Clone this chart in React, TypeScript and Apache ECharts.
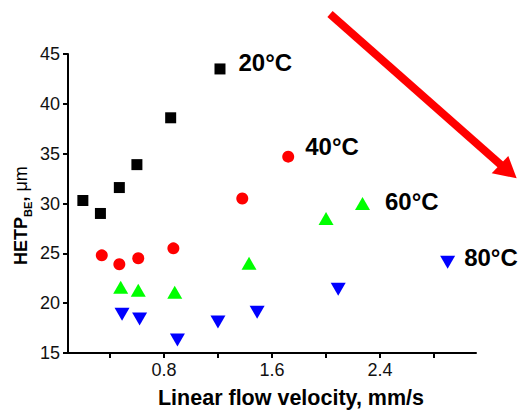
import React, { useEffect, useRef } from "react";
import * as echarts from "echarts";

const seriesNames = ["20°C", "40°C", "60°C", "80°C"];
const x20 = [0.2, 0.33, 0.47, 0.6, 0.85, 1.215];
const y20 = [30.3, 29.0, 31.6, 33.9, 38.6, 43.5];
const x40 = [0.34, 0.47, 0.61, 0.87, 1.38, 1.72];
const y40 = [24.8, 23.9, 24.5, 25.5, 30.5, 34.7];
const x60 = [0.48, 0.61, 0.88, 1.43, 2.0, 2.27];
const y60 = [21.6, 21.3, 21.1, 24.0, 28.5, 30.0];
const x80 = [0.49, 0.62, 0.9, 1.2, 1.49, 2.09, 2.9];
const y80 = [18.9, 18.4, 16.3, 18.1, 19.1, 21.4, 24.1];
const xTickValues = [0.4, 0.8, 1.2, 1.6, 2.0, 2.4, 2.8];
const xLabelValues = [0.8, 1.6, 2.4];
const xTitle = "Linear flow velocity, mm/s";
const yTitleMain = "HETP";
const yTitleSub = "BE";
const yTitleUnit = "μm";

const FONT = '"Liberation Sans", Arial, Helvetica, sans-serif';

const styles = [
  { color: "#000000", symbol: "rect", size: 11, rotate: 0, dist: 13, offset: [0, -6] },
  { color: "#ff0000", symbol: "circle", size: 12, rotate: 0, dist: 11, offset: [0, -10] },
  { color: "#00ff00", symbol: "triangle", size: [15, 13], rotate: 0, dist: 15, offset: [0, -2] },
  { color: "#0000ff", symbol: "triangle", size: [15, 13], rotate: 180, dist: 9, offset: [0, -5] },
];

function buildData(xs: number[], ys: number[], name: string, st: any) {
  return xs.map((x, i) => {
    const d: any = { value: [x, ys[i]] };
    if (i === xs.length - 1) {
      d.label = {
        show: true,
        formatter: name,
        position: "right",
        distance: st.dist,
        offset: st.offset,
        fontSize: 24,
        fontWeight: "bold",
        fontFamily: FONT,
        color: "#000",
      };
    }
    return d;
  });
}

export default function App() {
  const ref = useRef<HTMLDivElement>(null);
  useEffect(() => {
    if (!ref.current) return;
    const chart = echarts.init(ref.current, null, { renderer: "svg" });
    const xs = [x20, x40, x60, x80];
    const ys = [y20, y40, y60, y80];
    const series = seriesNames.map((n, k) => {
      const st = styles[k];
      return {
        name: n,
        type: "scatter",
        symbol: st.symbol,
        symbolSize: st.size,
        symbolRotate: st.rotate,
        itemStyle: { color: st.color, opacity: 1 },
        data: buildData(xs[k], ys[k], n, st),
        z: 3,
      };
    });
    chart.setOption({
      animation: false,
      backgroundColor: "#ffffff",
      textStyle: { fontFamily: FONT },
      grid: { left: 68, right: 43, top: 54, bottom: 57, containLabel: false },
      xAxis: {
        type: "value",
        min: 0.09,
        max: 3.11,
        splitLine: { show: false },
        axisLine: { show: true, onZero: false, lineStyle: { color: "#000", width: 2 } },
        axisTick: { show: true, inside: false, length: 5, customValues: xTickValues, lineStyle: { color: "#000", width: 2 } },
        axisLabel: {
          customValues: xLabelValues,
          formatter: (v: number) => v.toFixed(1),
          fontSize: 18,
          color: "#111",
          margin: 8,
          fontFamily: FONT,
        },
      },
      yAxis: {
        type: "value",
        min: 15,
        max: 45,
        interval: 5,
        splitLine: { show: false },
        axisLine: { show: true, onZero: false, lineStyle: { color: "#000", width: 2 } },
        axisTick: { show: true, inside: false, length: 5, lineStyle: { color: "#000", width: 2 } },
        axisLabel: { fontSize: 18, color: "#111", margin: 8, fontFamily: FONT },
      },
      graphic: [
        {
          type: "text",
          x: 291,
          y: 397.5,
          style: {
            text: xTitle,
            fontSize: 21.5,
            fontWeight: "bold",
            fontFamily: FONT,
            fill: "#000",
            align: "center",
            verticalAlign: "middle",
          },
        },
        {
          type: "group",
          x: 21,
          y: 265,
          rotation: Math.PI / 2,
          children: [
            {
              type: "text",
              x: 0,
              y: 0,
              style: { text: yTitleMain, fontSize: 18, fontWeight: "bold", fontFamily: FONT, fill: "#000", align: "left", verticalAlign: "middle" },
            },
            {
              type: "text",
              x: 48,
              y: 6.5,
              style: { text: yTitleSub, fontSize: 11, fontWeight: "bold", fontFamily: FONT, fill: "#000", align: "left", verticalAlign: "middle" },
            },
            {
              type: "text",
              x: 63.5,
              y: 0,
              style: { text: ",", fontSize: 18, fontWeight: "bold", fontFamily: FONT, fill: "#000", align: "left", verticalAlign: "middle" },
            },
            {
              type: "text",
              x: 73.5,
              y: 0,
              style: { text: yTitleUnit, fontSize: 18, fontWeight: "normal", fontFamily: FONT, fill: "#000", align: "left", verticalAlign: "middle" },
            },
          ],
        },
        {
          type: "line",
          shape: { x1: 330, y1: 14, x2: 501, y2: 165 },
          style: { stroke: "#ff0000", lineWidth: 8 },
          z: 10,
        },
        {
          type: "polygon",
          shape: { points: [[516.7, 178.3], [491.7, 173.3], [508.3, 156]] },
          style: { fill: "#ff0000" },
          z: 10,
        },
      ],
      series,
    });
    return () => chart.dispose();
  }, []);
  return <div ref={ref} style={{ width: 519, height: 410, position: "absolute", left: 0, top: 0 }} />;
}
